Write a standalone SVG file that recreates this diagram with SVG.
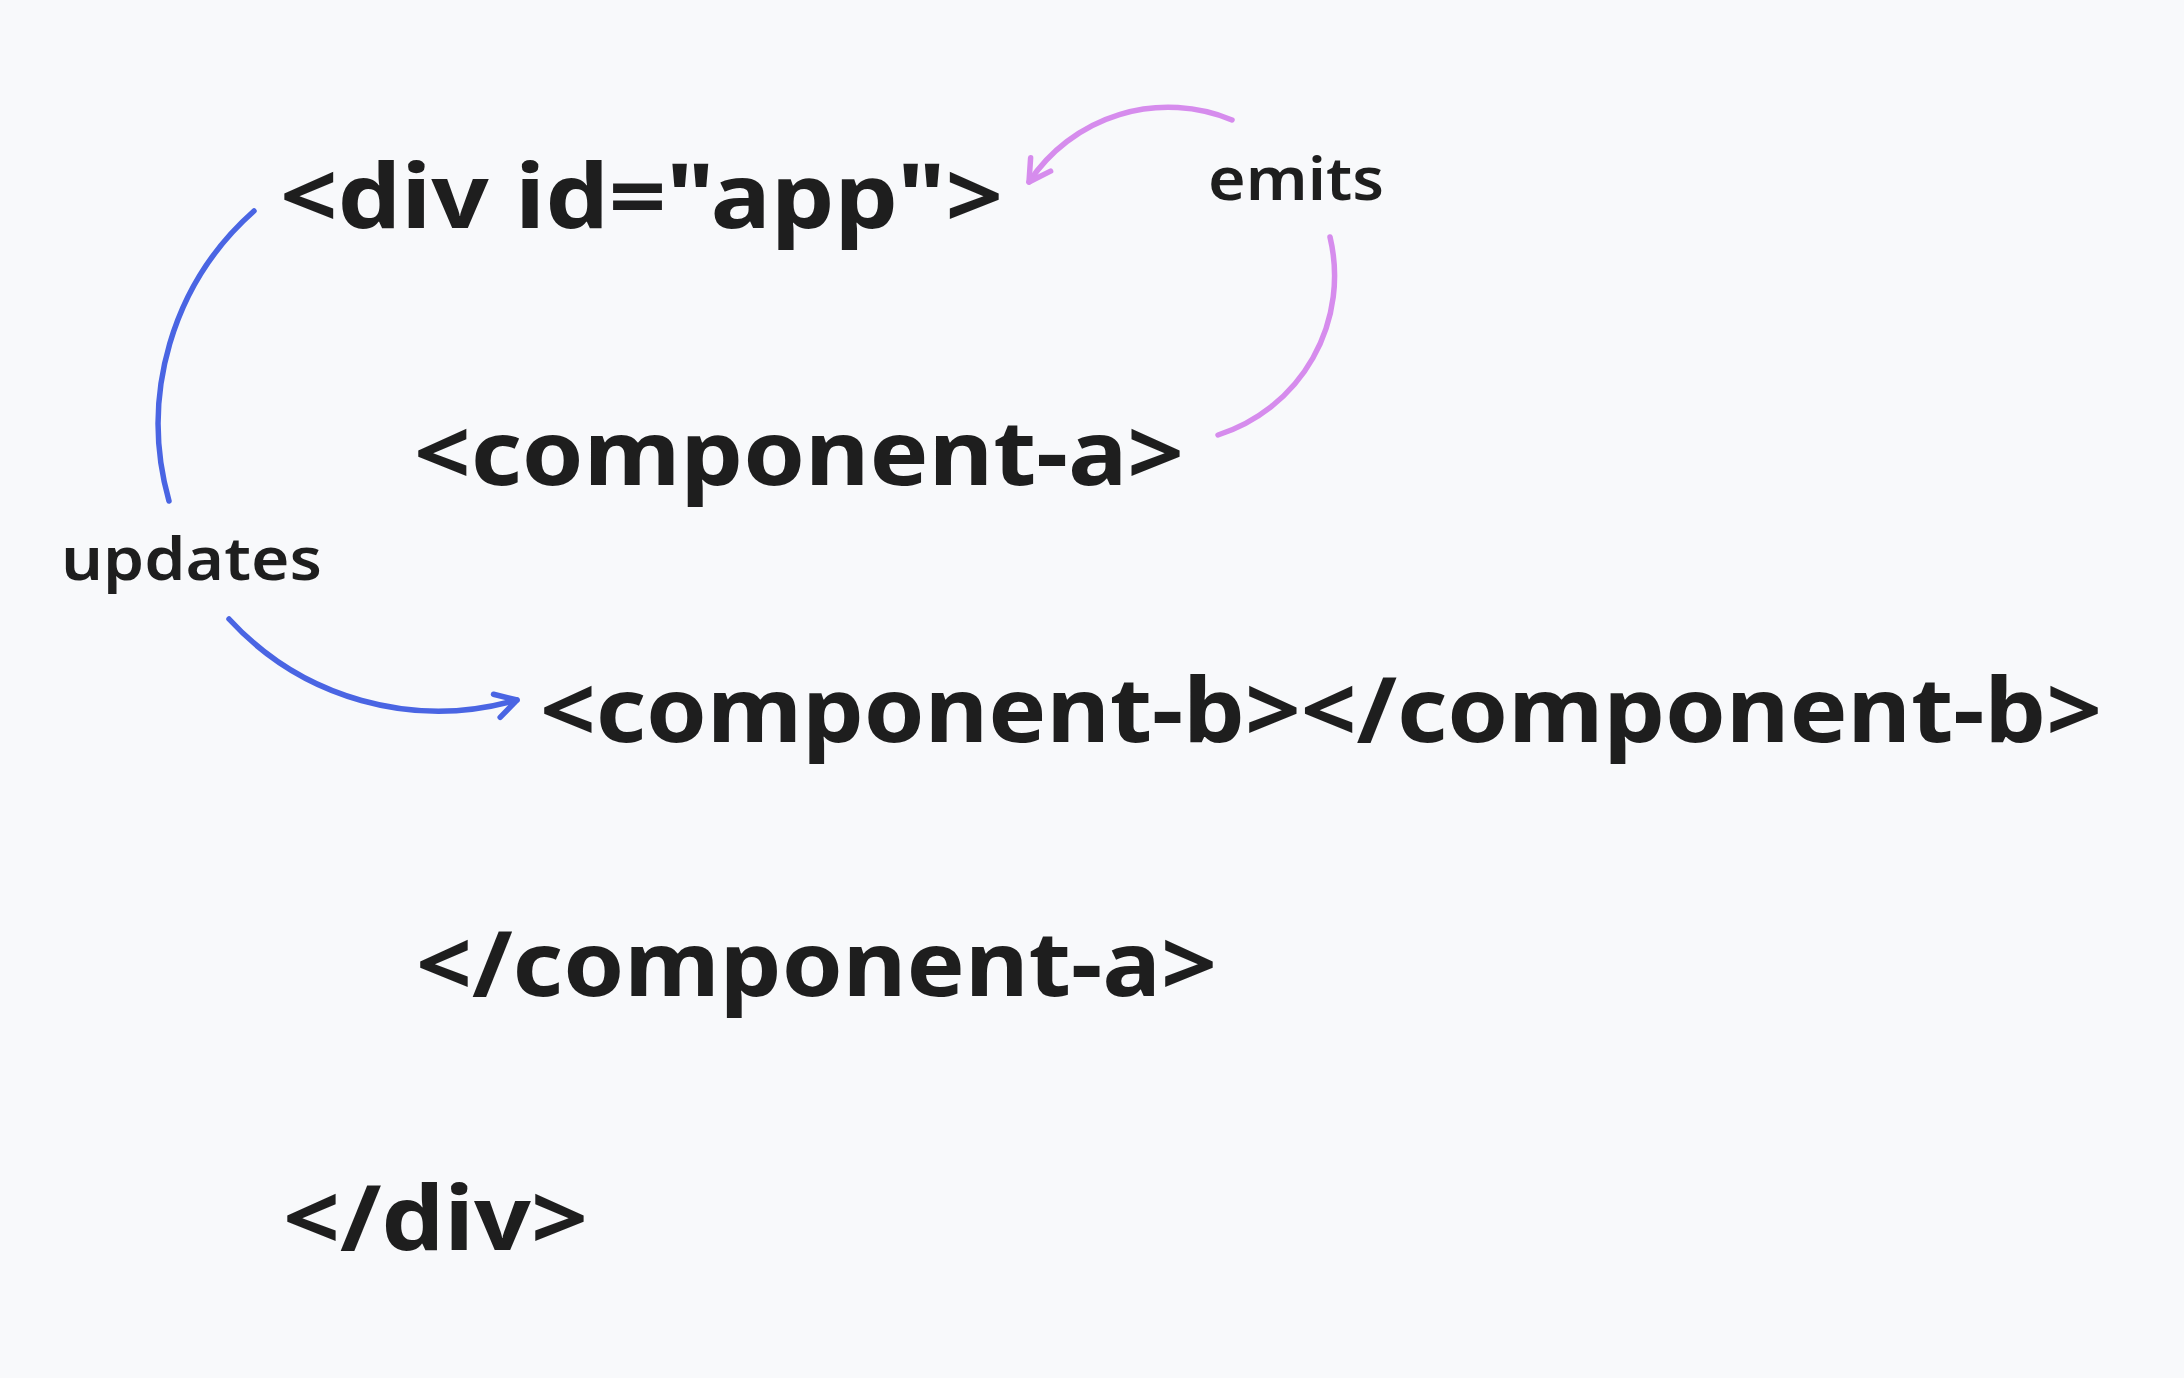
<svg xmlns="http://www.w3.org/2000/svg" width="2184" height="1378" viewBox="0 0 2184 1378">
  <style>
    .code { font-family: "Noto Sans", "Liberation Sans", sans-serif; font-weight: 700; font-size: 90px; fill: #1e1e1e; }
    .label { font-family: "Noto Sans", "Liberation Sans", sans-serif; font-weight: 600; font-size: 60px; fill: #1e1e1e; }
    .edge { fill: none; stroke-width: 5.5; stroke-linecap: round; }
    .blue { stroke: #4a65e3; }
    .purple { stroke: #d68ced; }
  </style>
  <defs>
    <marker id="arrow-blue" markerUnits="userSpaceOnUse" viewBox="-30 -20 40 40" refX="0" refY="0" markerWidth="40" markerHeight="40" orient="auto">
      <path d="M-21,-12 L0,0 L-21,12" fill="none" stroke="#4a65e3" stroke-width="5.5" stroke-linecap="round" stroke-linejoin="round"/>
    </marker>
    <marker id="arrow-purple" markerUnits="userSpaceOnUse" viewBox="-30 -20 40 40" refX="0" refY="0" markerWidth="40" markerHeight="40" orient="auto">
      <path d="M-21,-12 L0,0 L-21,12" fill="none" stroke="#d68ced" stroke-width="5.5" stroke-linecap="round" stroke-linejoin="round"/>
    </marker>
  </defs>
  <rect x="0" y="0" width="2184" height="1378" fill="#f8f9fb"/>

  <g id="connectors">
    <g id="edge-updates">
      <path class="edge blue" d="M254,211 A284,284 0 0 0 169,501"/>
      <path class="edge blue" d="M229,619 A284,284 0 0 0 517,700" marker-end="url(#arrow-blue)"/>
    </g>
    <g id="edge-emits">
      <path class="edge purple" d="M1218,435 A167,167 0 0 0 1330,237"/>
      <path class="edge purple" d="M1232,120 A167,167 0 0 0 1029,182" marker-end="url(#arrow-purple)"/>
    </g>
  </g>

  <g id="node-div-open">
    <text class="code" x="280" y="228" textLength="723" lengthAdjust="spacingAndGlyphs">&lt;div id="app"&gt;</text>
  </g>
  <g id="node-component-a-open">
    <text class="code" x="414" y="485" textLength="770" lengthAdjust="spacingAndGlyphs">&lt;component-a&gt;</text>
  </g>
  <g id="node-component-b">
    <text class="code" x="540" y="742" textLength="1562" lengthAdjust="spacingAndGlyphs">&lt;component-b&gt;&lt;/component-b&gt;</text>
  </g>
  <g id="node-component-a-close">
    <text class="code" x="416" y="996" textLength="801" lengthAdjust="spacingAndGlyphs">&lt;/component-a&gt;</text>
  </g>
  <g id="node-div-close">
    <text class="code" x="283" y="1250" textLength="305" lengthAdjust="spacingAndGlyphs">&lt;/div&gt;</text>
  </g>
  <g id="label-emits">
    <text class="label" x="1208" y="200" textLength="176" lengthAdjust="spacingAndGlyphs">emits</text>
  </g>
  <g id="label-updates">
    <text class="label" x="61" y="580" textLength="261" lengthAdjust="spacingAndGlyphs">updates</text>
  </g>
</svg>
